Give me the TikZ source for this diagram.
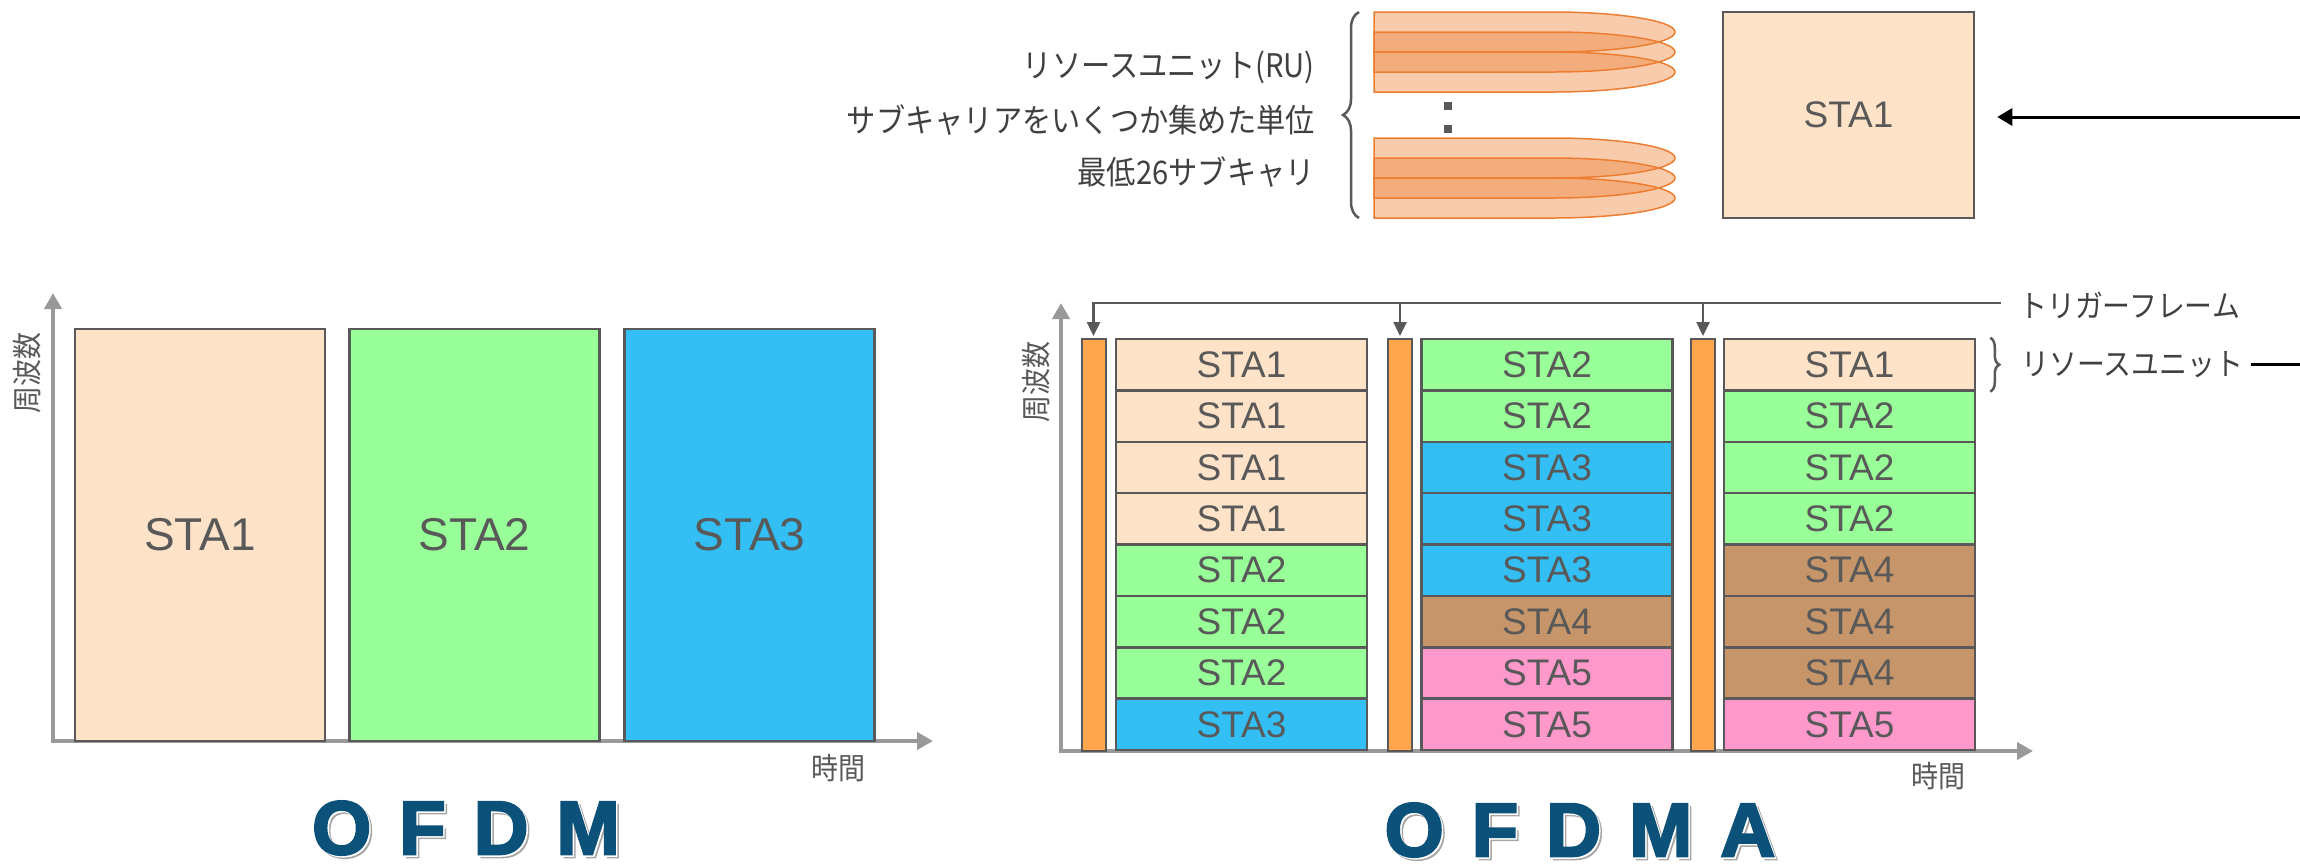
\documentclass[tikz,border=0pt]{standalone}
\usepackage{fontspec}
\setmainfont{Liberation Sans}
\newfontfamily\jp[FakeStretch=0.9]{Noto Sans CJK JP}
\newfontfamily\ttlfont[BoldFeatures={FakeBold=3}]{Liberation Sans}
\usetikzlibrary{arrows.meta,decorations.pathreplacing}
\definecolor{sta1}{HTML}{FFE3C8}
\definecolor{sta2}{HTML}{99FF99}
\definecolor{sta3}{HTML}{33BFF3}
\definecolor{sta4}{HTML}{C69569}
\definecolor{sta5}{HTML}{FF99CC}
\definecolor{cbar}{HTML}{FFA64F}
\definecolor{cedge}{HTML}{595959}
\definecolor{caxis}{HTML}{999999}
\definecolor{ctitle}{HTML}{0B5179}
\definecolor{cshadow}{HTML}{A6A6A6}
\definecolor{cru}{HTML}{ED7D31}
\definecolor{ctext}{HTML}{404040}
\newcommand{\tgap}{\hspace{28pt}}
\begin{document}
\begin{tikzpicture}[x=1pt,y=-1pt,
  stabox/.style={draw=cedge,line width=2.5pt,inner sep=0pt,text=cedge,
    font=\fontsize{37}{40}\selectfont,minimum width=251pt,minimum height=51.375pt},
  bigbox/.style={draw=cedge,line width=2.5pt,inner sep=0pt,text=cedge,
    font=\fontsize{46}{50}\selectfont,minimum width=250pt,minimum height=412pt},
  barbox/.style={draw=cedge,fill=cbar,line width=2pt,inner sep=0pt,
    minimum width=24pt,minimum height=412pt},
  axisline/.style={draw=caxis,line width=4pt,-{Triangle[length=16pt,width=17pt]}},
  trigarrow/.style={draw=cedge,line width=2.5pt,-{Triangle[length=14pt,width=13pt]}},
  axlabel/.style={text=cedge,inner sep=0pt,font=\jp\fontsize{30}{32}\selectfont},
  jplabel/.style={text=ctext,inner sep=0pt,font=\jp\fontsize{31}{33}\selectfont},
  jpbig/.style={text=ctext,inner sep=0pt,font=\jp\fontsize{32.5}{35}\selectfont},
  titletext/.style={text=ctitle,inner sep=0pt,font=\ttlfont\fontsize{76}{78}\selectfont\bfseries},
  titleshadow/.style={text=cshadow,inner sep=0pt,font=\ttlfont\fontsize{76}{78}\selectfont\bfseries},
  titlehalo/.style={text=white,inner sep=0pt,font=\ttlfont\fontsize{76}{78}\selectfont\bfseries},
  bracestyle/.style={draw=cedge,line width=2.5pt,decorate,decoration={brace,amplitude=#1}},
  rushape/.style={draw=cru,fill=cru,fill opacity=0.4,line width=1.5pt}
]
\useasboundingbox (0,0) rectangle (2300,863);

% ---------------- OFDM ----------------
\coordinate (oO) at (51,741);
\coordinate (oOy) at (53,743);
\coordinate (oY) at (53,293);
\coordinate (oX) at (933,741);
\draw[axisline] (oOy) -- (oY);
\draw[axisline] (oO) -- (oX);
\node[bigbox,fill=sta1] (o1) at (200,535) {STA1};
\node[bigbox,fill=sta2] (o2) at (474.5,535) {STA2};
\node[bigbox,fill=sta3] (o3) at (749.5,535) {STA3};
\node[axlabel,rotate=90] (ofreq) at (27,373) {周波数};
\node[axlabel] (otime) at (838,768) {時間};
\node[titleshadow] (tOFDMs) at (469,831) {O\tgap F\tgap D\tgap M};
\node[titlehalo] (tOFDMh) at (467.5,829.5) {O\tgap F\tgap D\tgap M};
\node[titletext] (tOFDM) at (466,828) {O\tgap F\tgap D\tgap M};

% ---------------- OFDMA ----------------
\coordinate (aO) at (1059,751);
\coordinate (aOy) at (1061,753);
\coordinate (aY) at (1061,303);
\coordinate (aX) at (2033,751);
\draw[axisline] (aOy) -- (aY);
\draw[axisline] (aO) -- (aX);
\node[barbox] (b1) at (1093.5,545) {};
\node[barbox] (b2) at (1400,545) {};
\node[barbox] (b3) at (1703,545) {};
\foreach \n [count=\i from 0] in {1,1,1,1,2,2,2,3}
  \node[stabox,fill=sta\n] (c1r\i) at (1241.5,{339+51.375*(\i+0.5)}) {STA\n};
\foreach \n [count=\i from 0] in {2,2,3,3,3,4,5,5}
  \node[stabox,fill=sta\n] (c2r\i) at (1547,{339+51.375*(\i+0.5)}) {STA\n};
\foreach \n [count=\i from 0] in {1,2,2,2,4,4,4,5}
  \node[stabox,fill=sta\n] (c3r\i) at (1849.5,{339+51.375*(\i+0.5)}) {STA\n};
\node[axlabel,rotate=90] (afreq) at (1036,382) {周波数};
\node[axlabel] (atime) at (1938,776) {時間};
\node[titleshadow] (tOFDMAs) at (1583,833) {O\tgap F\tgap D\tgap M\tgap A};
\node[titlehalo] (tOFDMAh) at (1581.5,831.5) {O\tgap F\tgap D\tgap M\tgap A};
\node[titletext] (tOFDMA) at (1580,830) {O\tgap F\tgap D\tgap M\tgap A};

% trigger frame
\node[jplabel,anchor=west] (trg) at (2019,305) {トリガーフレーム};
\coordinate (tE) at (2001,303);
\draw[trigarrow] (tE) -| ([yshift=2pt]b1.north);
\draw[trigarrow] (b2.north |- tE) -- ([yshift=2pt]b2.north);
\draw[trigarrow] (b3.north |- tE) -- ([yshift=2pt]b3.north);

% resource unit brace
\draw[bracestyle=9pt] ([xshift=14pt]c3r0.north east) -- ([xshift=14pt]c3r0.south east);
\node[jplabel,anchor=west] (ru) at (2021,365) {リソースユニット};
\coordinate (ruS) at (2251,364);
\coordinate (ruE) at (2300,364);
\draw[line width=3pt,black] (ruS) -- (ruE);

% ---------------- top: resource unit detail ----------------
\node[jpbig,anchor=east] (tt1) at (1315,67) {リソースユニット(RU)};
\node[jpbig,anchor=east] (tt2) at (1315,120) {サブキャリアをいくつか集めた単位};
\node[jpbig,anchor=east] (tt3) at (1315,172) {最低26サブキャリ};
\draw[bracestyle=16pt] (1359,218) -- (1359,12);
\foreach \yt in {12,32,52,138,158,178}
  \path[rushape] (1374,\yt) -- (1553,\yt)
    arc[start angle=90,end angle=-90,x radius=122pt,y radius=20pt]
    -- (1374,\yt+40) -- cycle;
\fill[cedge] (1444,102) rectangle (1452,110);
\fill[cedge] (1444,125) rectangle (1452,133);
\node[stabox,fill=sta1,minimum width=251pt,minimum height=206pt] (top1) at (1848.5,115) {STA1};
\coordinate (arS) at (2300,117);
\draw[line width=3pt,black,-{Triangle[length=15pt,width=17pt]},shorten >=22pt] (arS) -- (top1.east |- arS);
\end{tikzpicture}
\end{document}
